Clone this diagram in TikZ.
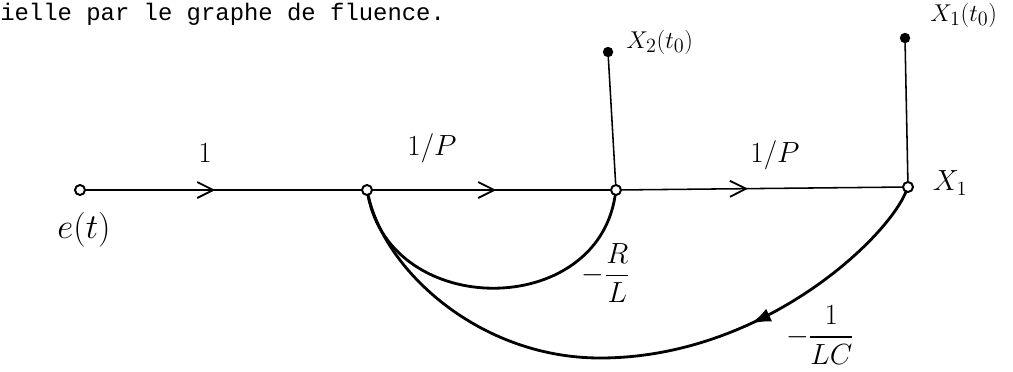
\documentclass[tikz,border=0pt]{standalone}
\usepackage{amsmath}
\usepackage{fontspec}
\newfontfamily\typewriter{Liberation Mono}
\usetikzlibrary{arrows.meta,decorations.markings}

\tikzset{
  junction/.style={circle,draw,fill=white,line width=1.4pt,inner sep=0pt,minimum size=2.5mm},
  initdot/.style={circle,fill,inner sep=0pt,minimum size=2.6mm},
  branch/.style={line width=1.1pt},
  loopback/.style={line width=2pt},
  midbarb/.style={decoration={markings,mark=at position #1 with {\arrow{Straight Barb[length=4mm,width=4mm,line width=1.3pt]}}},postaction={decorate}},
  midlatex/.style={decoration={markings,mark=at position #1 with {\arrow{Latex[length=5mm,width=3.5mm]}}},postaction={decorate}},
  gain/.style={font=\fontsize{22}{22}\selectfont},
  initlabel/.style={font=\fontsize{19}{19}\selectfont,anchor=west,inner sep=0pt},
}

\begin{document}
\begin{tikzpicture}[x=0.025cm,y=0.025cm,line cap=round,line join=round]
    \useasboundingbox (0,0) rectangle (1013,371);

    % typed line above the figure
    \node[anchor=base west,inner sep=0pt,font=\typewriter\fontsize{17}{17}\selectfont] (caption) at (0,351) {ielle par le graphe de fluence.};

    % nodes of the graph
    \node[junction] (e) at (80,181) {};
    \node[junction] (a) at (367,181) {};
    \node[junction] (b) at (616,181) {};
    \node[junction] (c) at (908,184) {};
    \node[initdot] (b0) at (608,319) {};
    \node[initdot] (c0) at (905,333) {};

    % forward branches
    \draw[branch,midbarb=0.47] (e) -- (a);
    \draw[branch,midbarb=0.52] (a) -- (b);
    \draw[branch,midbarb=0.45] (b) -- (c);
    \draw[branch] (b) -- (b0);
    \draw[branch] (c) -- (c0);

    % feedback branches
    \draw[loopback] (b) .. controls (596,52) and (392,52) .. (a);
    \draw[loopback,midlatex=0.31] (c) .. controls (885,130) and (760,13) .. (600,13)
        .. controls (480,13) and (385,100) .. (a);

    % labels
    \node[font=\fontsize{30}{30}\selectfont] (elabel) at (84,141) {$e(t)$};
    \node[gain] (g1) at (205,218) {$1$};
    \node[gain] (g2) at (432,223) {$1/P$};
    \node[gain] (g3) at (775,216) {$1/P$};
    \node[gain] (x1) at (950,188) {$X_1$};
    \node[initlabel] (x20) at (626,329) {$X_2(t_0)$};
    \node[initlabel] (x10) at (930,356) {$X_1(t_0)$};
    \node[gain] (gR) at (606,98) {$-\dfrac{R}{L}$};
    \node[gain] (gLC) at (820,36) {$-\dfrac{1}{LC}$};
\end{tikzpicture}
\end{document}
